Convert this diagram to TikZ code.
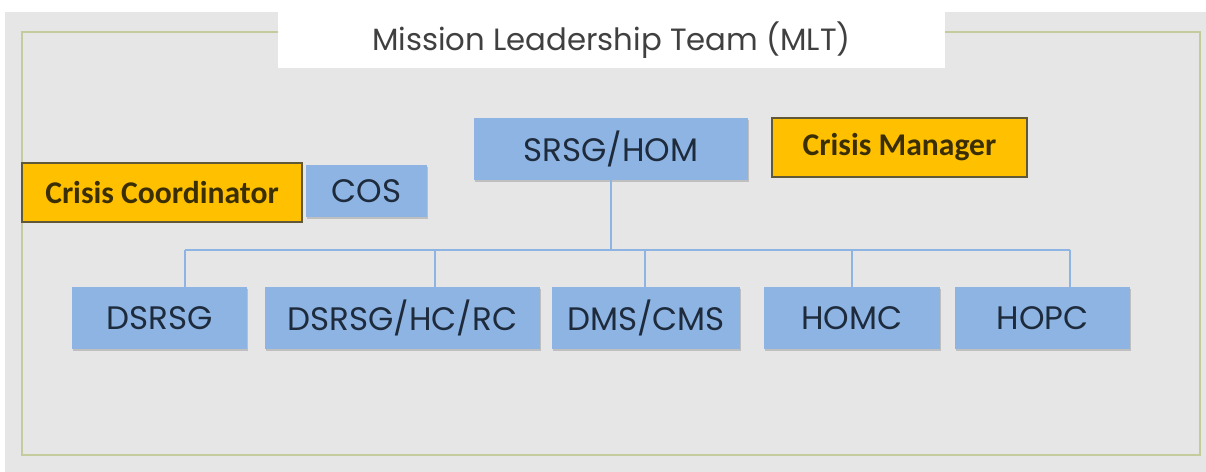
\documentclass[tikz,border=0pt]{standalone}
\usepackage{fontspec}
\setmainfont{Poppins}
\newfontfamily\calfont{Carlito}
\usepackage{xcolor}
\usetikzlibrary{positioning, shadows}

\definecolor{bgGray}{HTML}{E6E6E6}
\definecolor{frameOlive}{HTML}{C4CB9C}
\definecolor{boxBlue}{HTML}{8EB4E3}
\definecolor{boxYellow}{HTML}{FFC000}
\definecolor{textNavy}{HTML}{1E2B3C}
\definecolor{textBrown}{HTML}{3A2E05}

\tikzset{
    role/.style={rectangle, fill=boxBlue, text=textNavy,
        minimum height=1.24cm, inner sep=0pt,
        font=\fontsize{18.5}{20}\selectfont,
        drop shadow={shadow xshift=0.6pt, shadow yshift=-1.2pt,
            fill=black!40, opacity=0.5}},
    crisis/.style={rectangle, fill=boxYellow, draw=textBrown!80,
        line width=0.7pt, text=textBrown, minimum height=1.18cm,
        inner sep=0pt, font=\calfont\bfseries\fontsize{18}{20}\selectfont},
    link/.style={boxBlue, line width=1.3pt}
}

\begin{document}
\begin{tikzpicture}[x=0.02cm, y=-0.02cm]

    \useasboundingbox (0,0) rectangle (1206,472);
    \fill[white] (0,0) rectangle (1206,472);
    \fill[bgGray] (5,12) rectangle (1206,472);
    \draw[frameOlive, line width=1.1pt] (22,32) rectangle (1200,455);

    % title tab
    \fill[white] (278,0) rectangle (945,68);
    \node[text=black!75, font=\fontsize{17.5}{20}\selectfont]
        (mlt) at (611.5,40) {Mission Leadership Team (MLT)};

    \node[role, minimum width=5.48cm] (srsg) at (611,149) {SRSG/HOM};
    \node[crisis, minimum width=5.1cm] (cman) at (899.5,147.5) {Crisis Manager};
    \node[crisis, minimum width=5.6cm] (ccoord) at (162,192.5) {Crisis Coordinator};
    \node[role, minimum width=2.42cm, minimum height=1.04cm]
        (cos) at (366.5,191) {COS};

    \node[role, minimum width=3.5cm] (dsrsg) at (159.5,318) {DSRSG};
    \node[role, minimum width=5.5cm] (hcrc) at (402.5,318) {DSRSG/HC/RC};
    \node[role, minimum width=3.76cm] (dms) at (646,318) {DMS/CMS};
    \node[role, minimum width=3.52cm] (homc) at (852,318) {HOMC};
    \node[role, minimum width=3.5cm] (hopc) at (1042.5,318) {HOPC};

    % bus line
    \coordinate (b1) at (185,250);
    \coordinate (b2) at (435,250);
    \coordinate (b3) at (645,250);
    \coordinate (b4) at (852,250);
    \coordinate (b5) at (1070,250);

    \draw[link] (srsg.south) -- (srsg.south |- b1);
    \draw[link] (b1) -- (b5);
    \draw[link] (b1) -- (b1 |- dsrsg.north);
    \draw[link] (b2) -- (b2 |- hcrc.north);
    \draw[link] (b3) -- (b3 |- dms.north);
    \draw[link] (b4) -- (b4 |- homc.north);
    \draw[link] (b5) -- (b5 |- hopc.north);

\end{tikzpicture}
\end{document}
